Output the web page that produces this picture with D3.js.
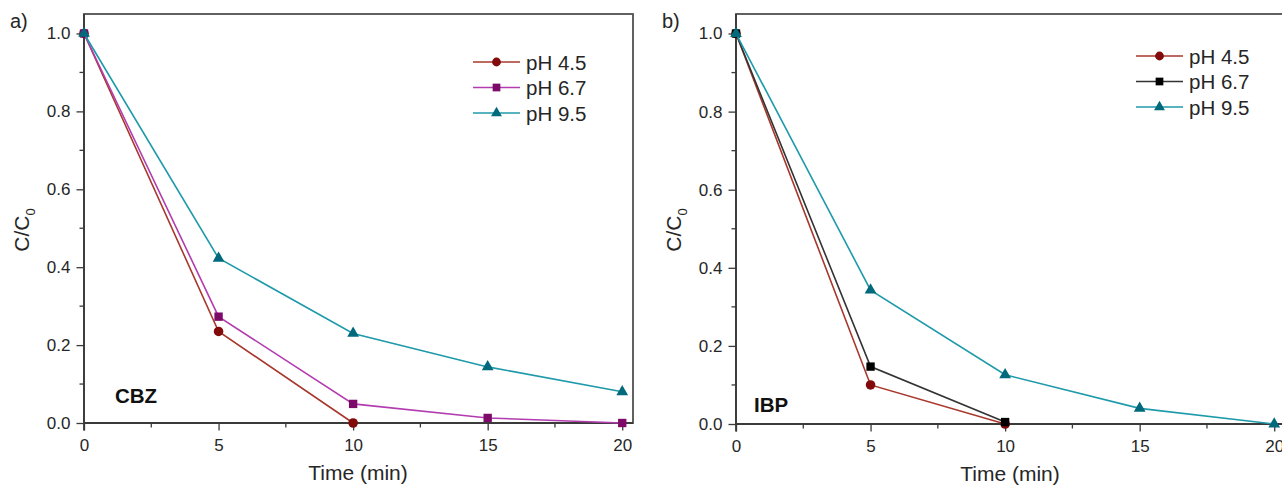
<!DOCTYPE html>
<html><head><meta charset="utf-8">
<script src="https://cdn.jsdelivr.net/npm/d3@7"></script>
<style>body{margin:0;background:#fff}svg{display:block;font-family:"Liberation Sans",Arial,sans-serif}</style>
</head><body>
<svg id="c" width="1282" height="487"></svg>
<script>
const times = [0, 5, 10, 15, 20];
const seriesLabels = ["pH 4.5", "pH 6.7", "pH 9.5"];
const cbz_pH45 = [1.0, 0.235, 0.0];
const cbz_pH67 = [1.0, 0.273, 0.049, 0.013, 0.0];
const cbz_pH95 = [1.0, 0.423, 0.230, 0.144, 0.080];
const ibp_pH45 = [1.0, 0.100, 0.0];
const ibp_pH67 = [1.0, 0.147, 0.005];
const ibp_pH95 = [1.0, 0.343, 0.126, 0.040, 0.0];
const xTicks = [0, 5, 10, 15, 20];
const yTicks = [0.0, 0.2, 0.4, 0.6, 0.8, 1.0];

const svg = d3.select("#c");
const axisCol = "#3a3a3a";
const textCol = "#262626";

function panel(cfg) {
  const x = d3.scaleLinear().domain([0, 20.4]).range([cfg.left, cfg.left + 549]);
  const y = d3.scaleLinear().domain([0, 1.05]).range([cfg.bottom, 14]);
  const g = svg.append("g");
  g.append("rect").attr("x", cfg.left).attr("y", 14)
    .attr("width", 549).attr("height", cfg.bottom - 14)
    .attr("fill", "none").attr("stroke", "#505050").attr("stroke-width", 1.8);
  const yMinor = [0.1, 0.3, 0.5, 0.7, 0.9];
  g.selectAll(".ym").data(yMinor).join("line")
    .attr("x1", cfg.left - 4.5).attr("x2", cfg.left)
    .attr("y1", d => y(d)).attr("y2", d => y(d))
    .attr("stroke", axisCol).attr("stroke-width", 1.3);
  const xMinor = [2.5, 7.5, 12.5, 17.5];
  g.selectAll(".xm").data(xMinor).join("line")
    .attr("x1", d => x(d)).attr("x2", d => x(d))
    .attr("y1", cfg.bottom).attr("y2", cfg.bottom + 4.5)
    .attr("stroke", axisCol).attr("stroke-width", 1.3);
  const ax = g.append("g").attr("transform", `translate(0,${cfg.bottom})`)
    .call(d3.axisBottom(x).tickValues(xTicks).tickSize(7.5).tickPadding(8).tickFormat(d3.format("d")));
  const ay = g.append("g").attr("transform", `translate(${cfg.left},0)`)
    .call(d3.axisLeft(y).tickValues(yTicks).tickSize(7.5).tickPadding(6).tickFormat(d3.format(".1f")));
  [ax, ay].forEach(a => {
    a.select(".domain").attr("stroke", axisCol).attr("stroke-width", 1.8);
    a.selectAll(".tick line").attr("stroke", axisCol).attr("stroke-width", 1.3);
    a.selectAll("text").attr("fill", textCol).style("font-size", "17px");
  });
  ax.select(".domain").attr("d", `M${cfg.left},0H${cfg.left + 549}`);
  ay.select(".domain").attr("d", `M0,${cfg.bottom + 7.5}V14`);

  cfg.series.forEach(s => {
    const pts = s.values.map((v, i) => [times[i], v]);
    g.append("path").datum(pts)
      .attr("d", d3.line().x(d => x(d[0])).y(d => y(d[1])))
      .attr("fill", "none").attr("stroke", s.line).attr("stroke-width", 1.6);
    const sym = d3.symbol().type(s.shape).size(s.size);
    g.selectAll(null).data(pts).join("path")
      .attr("transform", d => `translate(${x(d[0])},${y(d[1])})`)
      .attr("d", sym).attr("fill", s.marker);
  });

  cfg.series.forEach((s, i) => {
    const ly = cfg.legY + i * 25.5;
    g.append("line").attr("x1", cfg.legX).attr("x2", cfg.legX + 47)
      .attr("y1", ly).attr("y2", ly).attr("stroke", s.line).attr("stroke-width", 1.6);
    g.append("path").attr("transform", `translate(${cfg.legX + 23.5},${ly})`)
      .attr("d", d3.symbol().type(s.shape).size(s.size * 0.85)).attr("fill", s.marker);
    g.append("text").attr("x", cfg.legX + 53).attr("y", ly + 7.5)
      .attr("fill", textCol).style("font-size", "20.5px").text(s.label);
  });

  g.append("text").attr("x", cfg.tagX).attr("y", cfg.tagY)
    .attr("font-weight", "bold").style("font-size", "20.5px").attr("fill", "#111").text(cfg.tag);
  g.append("text").attr("x", cfg.left + 274).attr("y", cfg.bottom + 57).attr("text-anchor", "middle")
    .style("font-size", "21px").attr("fill", textCol).text("Time (min)");
  const yt = g.append("text").attr("transform", `translate(${cfg.left - 55},${230}) rotate(-90)`)
    .attr("text-anchor", "middle").style("font-size", "21px").attr("fill", textCol);
  yt.append("tspan").text("C/C");
  yt.append("tspan").attr("dy", 6).style("font-size", "13px").text("0");
  g.append("text").attr("x", cfg.left - 74).attr("y", 28)
    .style("font-size", "20px").attr("fill", textCol).text(cfg.panel);
}

panel({
  left: 84, bottom: 423, panel: "a)", tag: "CBZ", tagX: 115, tagY: 403, legX: 473, legY: 62,
  series: [
    {label: seriesLabels[0], values: cbz_pH45, line: "#a8372c", marker: "#820a0a", shape: d3.symbolCircle, size: 72},
    {label: seriesLabels[1], values: cbz_pH67, line: "#b23cb0", marker: "#7d0a68", shape: d3.symbolSquare, size: 70},
    {label: seriesLabels[2], values: cbz_pH95, line: "#1e9aaa", marker: "#006a7c", shape: d3.symbolTriangle, size: 60}
  ]
});
panel({
  left: 736, bottom: 424, panel: "b)", tag: "IBP", tagX: 754, tagY: 412, legX: 1136, legY: 56,
  series: [
    {label: seriesLabels[0], values: ibp_pH45, line: "#a8372c", marker: "#820a0a", shape: d3.symbolCircle, size: 72},
    {label: seriesLabels[1], values: ibp_pH67, line: "#333333", marker: "#000000", shape: d3.symbolSquare, size: 70},
    {label: seriesLabels[2], values: ibp_pH95, line: "#1e9aaa", marker: "#006a7c", shape: d3.symbolTriangle, size: 60}
  ]
});
</script>
</body></html>
